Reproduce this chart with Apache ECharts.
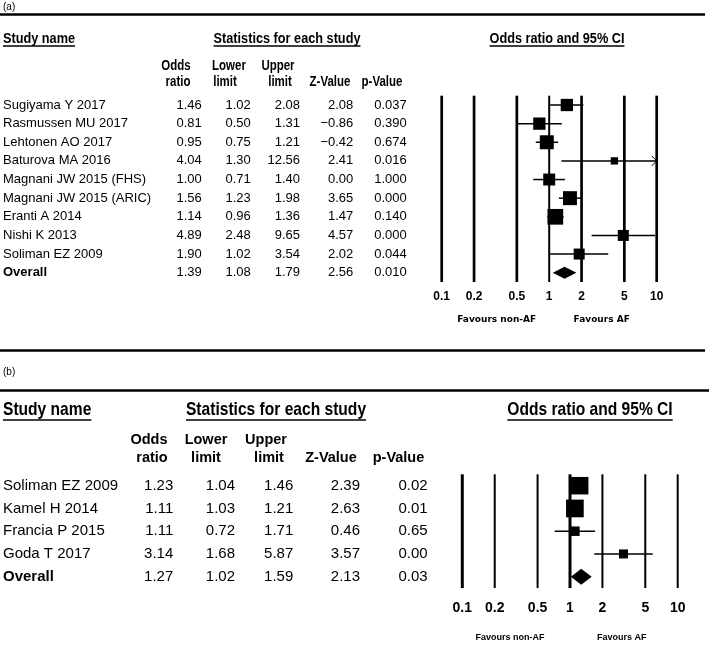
<!DOCTYPE html>
<html><head><meta charset="utf-8">
<script src="https://cdn.jsdelivr.net/npm/echarts@6/dist/echarts.min.js"></script>
<style>html,body{margin:0;padding:0;background:#fff}#c{width:709px;height:671px}</style>
</head><body><div id="c"></div>
<script>
// ---------- DATA (panel a) ----------
const studiesA = ['Sugiyama Y 2017','Rasmussen MU 2017','Lehtonen AO 2017','Baturova MA 2016','Magnani JW 2015 (FHS)','Magnani JW 2015 (ARIC)','Eranti A 2014','Nishi K 2013','Soliman EZ 2009','Overall'];
const oddsA  = [1.46,0.81,0.95,4.04,1.00,1.56,1.14,4.89,1.90,1.39];
const lowerA = [1.02,0.50,0.75,1.30,0.71,1.23,0.96,2.48,1.02,1.08];
const upperA = [2.08,1.31,1.21,12.56,1.40,1.98,1.36,9.65,3.54,1.79];
const zA     = [2.08,-0.86,-0.42,2.41,0.00,3.65,1.47,4.57,2.02,2.56];
const pA     = [0.037,0.390,0.674,0.016,1.000,0.000,0.140,0.000,0.044,0.010];
const weightsA = [11.0,11.0,14.2,3.9,10.4,14.2,17.9,8.8,8.8]; // relative study weights (%), estimated
const ticksA = [0.1,0.2,0.5,1,2,5,10];

// ---------- DATA (panel b) ----------
const studiesB = ['Soliman EZ 2009','Kamel H 2014','Francia P 2015','Goda T 2017','Overall'];
const oddsB  = [1.23,1.11,1.11,3.14,1.27];
const lowerB = [1.04,1.03,0.72,1.68,1.02];
const upperB = [1.46,1.21,1.71,5.87,1.59];
const zB     = [2.39,2.63,0.46,3.57,2.13];
const pB     = [0.02,0.01,0.65,0.00,0.03];
const weightsB = [38.7,39.6,11.4,10.3]; // relative study weights (%), estimated
const ticksB = [0.1,0.2,0.5,1,2,5,10];

// ---------- helpers ----------
const SANS = "'Liberation Sans', Arial, sans-serif";
const fmt = (v, d) => (v < 0 ? '\u2212' : '') + Math.abs(v).toFixed(d);
const fmtTick = v => String(v);
const NARROW_K = 0.82;

function txt(text, x, y, font, align, sx) {
  return {type:'text', x:x, y:y, scaleX: sx || 1, silent:true,
    style:{text:text, font:font, fill:'#000', align:align||'left', textAlign:align||'left',
           verticalAlign:'middle', textVerticalAlign:'middle'}};
}
function hline(x1, y, x2, w) {
  return {type:'line', silent:true, shape:{x1:x1,y1:y,x2:x2,y2:y}, style:{stroke:'#000', lineWidth:w}};
}

function tableRender(cols) {
  return function(params, api) {
    const i = params.dataIndex;
    const children = cols.map(c => {
      const p = api.coord([c.x, i]);
      return {type:'text', x:p[0], y:p[1],
        style:{text:c.text(i), font:c.font(i), fill:'#000', align:c.align, textAlign:c.align,
               verticalAlign:'middle', textVerticalAlign:'middle'}};
    });
    return {type:'group', children:children};
  };
}

function forestRender(or, lo, hi, w, k, dH, ciW) {
  return function(params, api) {
    const i = params.dataIndex;
    const cs = params.coordSys;
    const xMin = cs.x, xMax = cs.x + cs.width;
    const X = v => Math.max(xMin, Math.min(xMax, api.coord([v, i])[0]));
    const y = api.coord([or[i], i])[1];
    const ch = [];
    const xl = X(lo[i]), xr = X(hi[i]), xc = X(or[i]);
    if (i === or.length - 1) {
      ch.push({type:'polygon', shape:{points:[[xl,y],[xc,y-dH/2],[xr,y],[xc,y+dH/2]]}, style:{fill:'#000'}});
    } else {
      ch.push({type:'line', shape:{x1:xl,y1:y,x2:xr,y2:y}, style:{stroke:'#000', lineWidth:ciW}});
      if (hi[i] > 10) {
        ch.push({type:'polyline', shape:{points:[[xr-5,y-5],[xr,y],[xr-5,y+5]]}, style:{stroke:'#000', lineWidth:1, fill:null}});
      }
      const s = k * Math.sqrt(w[i]);
      ch.push({type:'rect', shape:{x:xc-s/2, y:y-s/2, width:s, height:s}, style:{fill:'#000'}});
    }
    return {type:'group', children:ch};
  };
}

function refRender(ticks, widthFn, labFont, labOff) {
  return function(params, api) {
    const i = params.dataIndex;
    const cs = params.coordSys;
    const x = api.coord([ticks[i], 0])[0];
    return {type:'group', children:[
      {type:'line', shape:{x1:x, y1:cs.y, x2:x, y2:cs.y+cs.height}, style:{stroke:'#000', lineWidth:widthFn(ticks[i])}},
      {type:'text', x:x, y:cs.y+cs.height+labOff,
       style:{text:fmtTick(ticks[i]), font:labFont, fill:'#000', align:'center', textAlign:'center', verticalAlign:'middle', textVerticalAlign:'middle'}}
    ]};
  };
}

// ---------- layout ----------
const rowA0 = 105, rowA1 = 272.7, stepA = (rowA1 - rowA0) / (studiesA.length - 1);
const topA = rowA0 - stepA/2, hA = stepA * studiesA.length;
const rowB0 = 485.7, rowB1 = 576.7, stepB = (rowB1 - rowB0) / (studiesB.length - 1);
const topB = rowB0 - stepB/2, hB = stepB * studiesB.length;

const grids = [
  {left:0, width:709, top:topA, height:hA},
  {left:441.7, width:215, top:topA, height:hA},
  {left:0, width:709, top:topB, height:hB},
  {left:462.3, width:215.4, top:topB, height:hB}
];
const xAxes = [
  {gridIndex:0, type:'value', min:0, max:709, show:false},
  {gridIndex:1, type:'log', logBase:10, min:0.1, max:10, show:false},
  {gridIndex:2, type:'value', min:0, max:709, show:false},
  {gridIndex:3, type:'log', logBase:10, min:0.1, max:10, show:false}
];
const yAxes = [
  {gridIndex:0, type:'category', data:studiesA, inverse:true, show:false},
  {gridIndex:1, type:'category', data:studiesA, inverse:true, show:false},
  {gridIndex:2, type:'category', data:studiesB, inverse:true, show:false},
  {gridIndex:3, type:'category', data:studiesB, inverse:true, show:false}
];

const fA = '13px ' + SANS, fAb = 'bold 13px ' + SANS;
const colsA = [
  {x:3, align:'left', text:i=>studiesA[i], font:i=> i===studiesA.length-1 ? fAb : fA},
  {x:201.7, align:'right', text:i=>fmt(oddsA[i],2), font:()=>fA},
  {x:250.7, align:'right', text:i=>fmt(lowerA[i],2), font:()=>fA},
  {x:300, align:'right', text:i=>fmt(upperA[i],2), font:()=>fA},
  {x:353.3, align:'right', text:i=>fmt(zA[i],2), font:()=>fA},
  {x:406.7, align:'right', text:i=>fmt(pA[i],3), font:()=>fA}
];
const fB = '15px ' + SANS, fBb = 'bold 15px ' + SANS;
const colsB = [
  {x:3, align:'left', text:i=>studiesB[i], font:i=> i===studiesB.length-1 ? fBb : fB},
  {x:173.3, align:'right', text:i=>fmt(oddsB[i],2), font:()=>fB},
  {x:235, align:'right', text:i=>fmt(lowerB[i],2), font:()=>fB},
  {x:293.3, align:'right', text:i=>fmt(upperB[i],2), font:()=>fB},
  {x:360, align:'right', text:i=>fmt(zB[i],2), font:()=>fB},
  {x:427.7, align:'right', text:i=>fmt(pB[i],2), font:()=>fB}
];

const series = [
  {type:'custom', xAxisIndex:0, yAxisIndex:0, data:studiesA.map((_,i)=>[0,i]), encode:{x:0,y:1},
   renderItem: tableRender(colsA), silent:true},
  {type:'custom', xAxisIndex:1, yAxisIndex:1, data:ticksA.map(v=>[v,0]), encode:{x:0,y:1}, clip:false,
   renderItem: refRender(ticksA, v => v===1 ? 2 : 2.7, 'bold 12px ' + SANS, 15), silent:true},
  {type:'custom', xAxisIndex:1, yAxisIndex:1, data:oddsA.map((v,i)=>[v,i]), encode:{x:0,y:1}, clip:false,
   renderItem: forestRender(oddsA, lowerA, upperA, weightsA, 3.71, 12, 1.5), silent:true},
  {type:'custom', xAxisIndex:2, yAxisIndex:2, data:studiesB.map((_,i)=>[0,i]), encode:{x:0,y:1},
   renderItem: tableRender(colsB), silent:true},
  {type:'custom', xAxisIndex:3, yAxisIndex:3, data:ticksB.map(v=>[v,0]), encode:{x:0,y:1}, clip:false,
   renderItem: refRender(ticksB, v => (v===0.1 || v===1) ? 3 : 2, 'bold 14px ' + SANS, 20), silent:true},
  {type:'custom', xAxisIndex:3, yAxisIndex:3, data:oddsB.map((v,i)=>[v,i]), encode:{x:0,y:1}, clip:false,
   renderItem: forestRender(oddsB, lowerB, upperB, weightsB, 2.81, 16, 1.5), silent:true}
];

// ---------- headers / annotations ----------
const hA15 = 'bold 15.5px ' + SANS;
const subA = 'bold 14px ' + SANS;
const hB19 = 'bold 19px ' + SANS;
const subB = 'bold 14.5px ' + SANS;
const K = NARROW_K;
const graphic = [
  txt('(a)', 3, 7, '10px ' + SANS),
  hline(0, 14.5, 705, 2.5),
  txt('Study name', 3, 39, hA15, 'left', K),
  txt('Statistics for each study', 287, 39, hA15, 'center', K),
  txt('Odds ratio and 95% CI', 557, 39, hA15, 'center', K),
  txt('Odds', 176, 66, subA, 'center', K), txt('ratio', 178, 82, subA, 'center', K),
  txt('Lower', 229, 66, subA, 'center', K), txt('limit', 225, 82, subA, 'center', K),
  txt('Upper', 278, 66, subA, 'center', K), txt('limit', 280, 82, subA, 'center', K),
  txt('Z-Value', 330, 82, subA, 'center', K), txt('p-Value', 382, 82, subA, 'center', K),
  txt('Favours non-AF', 496.7, 320, 'bold 9px DejaVu Sans', 'center'),
  txt('Favours AF', 601.7, 320, 'bold 9px DejaVu Sans', 'center'),

  hline(0, 350.5, 705, 2.5),
  txt('(b)', 3, 372, '10px ' + SANS),
  hline(0, 390.5, 709, 2.5),
  txt('Study name', 3, 410, hB19, 'left', K),
  txt('Statistics for each study', 276, 410, hB19, 'center', K),
  txt('Odds ratio and 95% CI', 590, 410, hB19, 'center', K),
  txt('Odds', 149, 440, subB, 'center'), txt('ratio', 152, 458, subB, 'center'),
  txt('Lower', 206, 440, subB, 'center'), txt('limit', 206, 458, subB, 'center'),
  txt('Upper', 266, 440, subB, 'center'), txt('limit', 269, 458, subB, 'center'),
  txt('Z-Value', 331, 458, subB, 'center'), txt('p-Value', 398.5, 458, subB, 'center'),
  txt('Favours non-AF', 510, 638, 'bold 9px ' + SANS, 'center'),
  txt('Favours AF', 621.7, 638, 'bold 9px ' + SANS, 'center')
];

const ctx = document.createElement('canvas').getContext('2d');
function tw(t, f){ ctx.font = f; return ctx.measureText(t).width; }
[['Study name',3,'left',46,hA15],['Statistics for each study',287,'center',46,hA15],['Odds ratio and 95% CI',557,'center',46,hA15],
 ['Study name',3,'left',420,hB19],['Statistics for each study',276,'center',420,hB19],['Odds ratio and 95% CI',590,'center',420,hB19]]
 .forEach(a => { const w = tw(a[0], a[4]) * K; const x1 = a[2]==='center' ? a[1]-w/2 : a[1]; graphic.push(hline(x1, a[3], x1+w, 1.5)); });

const chart = echarts.init(document.getElementById('c'), null, {renderer:'canvas'});
chart.setOption({animation:false, backgroundColor:'#fff', grid:grids, xAxis:xAxes, yAxis:yAxes, series:series, graphic:{elements:graphic}});
</script></body></html>
